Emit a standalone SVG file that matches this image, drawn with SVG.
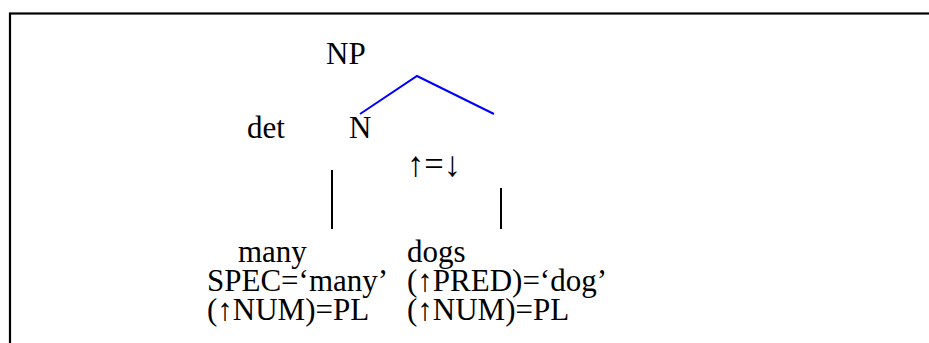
<svg xmlns="http://www.w3.org/2000/svg" width="929" height="343" viewBox="0 0 929 343">
<style>
text{font-family:"Liberation Serif","Times New Roman",serif;font-size:31px;fill:#000}
.tree{fill:none;stroke:#0000FF;stroke-width:2}
.bar{stroke:#000;stroke-width:2}
</style>
<rect x="0" y="0" width="929" height="343" fill="#fff"/>
<rect id="frame" x="10" y="13.5" width="940" height="350" fill="none" stroke="#000" stroke-width="2.2"/>
<g id="connectors">
<polyline class="tree" points="360,114 417,76 494,114"/>
<line class="bar" x1="332" y1="170" x2="332" y2="229"/>
<line class="bar" x1="501" y1="188" x2="501" y2="229"/>
</g>
<g id="np"><text x="326" y="64">NP</text></g>
<g id="det"><text x="247" y="138">det</text></g>
<g id="n"><text x="349" y="138">N</text><text x="407" y="176" style="font-size:35px" textLength="54" lengthAdjust="spacingAndGlyphs">↑=↓</text></g>
<g id="many"><text x="238" y="262">many</text><text x="207" y="291">SPEC=‘many’</text><text x="207" y="320">(↑NUM)=PL</text></g>
<g id="dogs"><text x="407" y="262">dogs</text><text x="407" y="291">(↑PRED)=‘dog’</text><text x="407" y="320">(↑NUM)=PL</text></g>
</svg>
